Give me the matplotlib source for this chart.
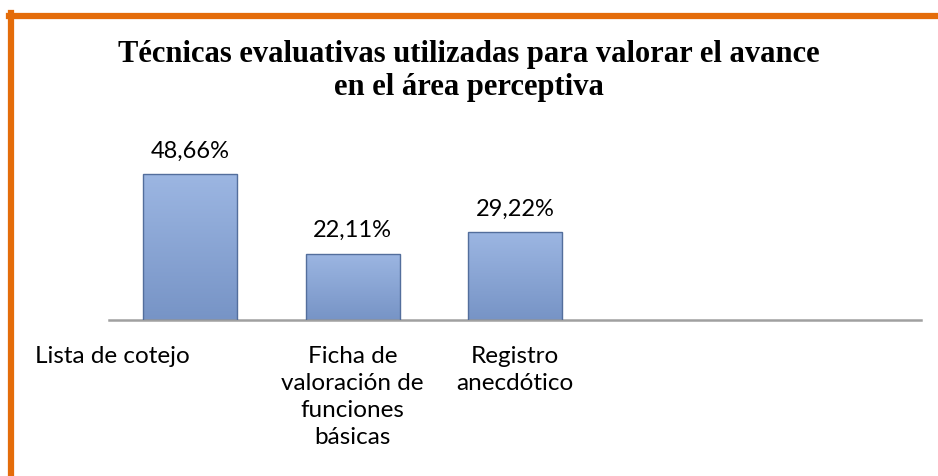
import matplotlib.pyplot as plt
import numpy as np
from matplotlib.lines import Line2D

# data
categorias = ['Lista de cotejo', 'Ficha de\nvaloración de\nfunciones\nbásicas', 'Registro\nanecdótico', '', '']
valores = [48.66, 22.11, 29.22]
etiquetas = ['48,66%', '22,11%', '29,22%']
titulo = 'Técnicas evaluativas utilizadas para valorar el avance\nen el área perceptiva'

W, H = 938, 476
fig = plt.figure(figsize=(W/100, H/100), dpi=100)
ax = fig.add_axes([109/W, 156/H, 812/W, 180/H])

# bars with a soft gradient fill
grad = np.linspace(0, 1, 100).reshape(-1, 1)
cmap = plt.matplotlib.colors.LinearSegmentedColormap.from_list('b', ['#7794c6', '#9cb6e2'])
x = np.arange(len(valores))
bars = ax.bar(x, valores, width=0.58, color='none', edgecolor='#536e9c', linewidth=1.0, zorder=3)
for b in bars:
    x0, w, h = b.get_x(), b.get_width(), b.get_height()
    im = ax.imshow(grad, extent=[x0, x0 + w, 0, h], origin='lower', cmap=cmap,
                   aspect='auto', zorder=2)
    im.set_clip_path(b)
ax.set_xlim(-0.5, len(categorias) - 0.5)
ax.set_ylim(0, 60)

for xi, v, t in zip(x, valores, etiquetas):
    ax.annotate(t, (xi, v), xytext=(0, 9), textcoords='offset points', ha='center',
                va='bottom', fontsize=17, family='Lato')

for s in ['top', 'right', 'left']:
    ax.spines[s].set_visible(False)
ax.spines['bottom'].set_color('#a0a0a0')
ax.spines['bottom'].set_linewidth(1.8)
ax.set_yticks([])
ax.set_xticks([])

# category labels
ax.text(0, -0.145, categorias[0], transform=ax.get_xaxis_transform(), ha='right', va='top',
        fontsize=17.5, family='Lato')
for i in [1, 2]:
    ax.text(i, -0.145, categorias[i], transform=ax.get_xaxis_transform(), ha='center', va='top',
            fontsize=17.5, family='Lato', linespacing=1.36, multialignment='center')

fig.text(469/W, 1 - 71/H, titulo, ha='center', va='center', fontsize=22,
         fontweight='bold', family='Liberation Serif', linespacing=1.22)

# orange frame (only top and left edges visible)
fig.add_artist(Line2D([11/W, 11/W], [0, 1 - 13/H], color='#e46c0a', lw=4.5))
fig.add_artist(Line2D([9/W, 1], [1 - 15.5/H, 1 - 15.5/H], color='#e46c0a', lw=4.5))

fig.savefig('out.png', dpi=100)
